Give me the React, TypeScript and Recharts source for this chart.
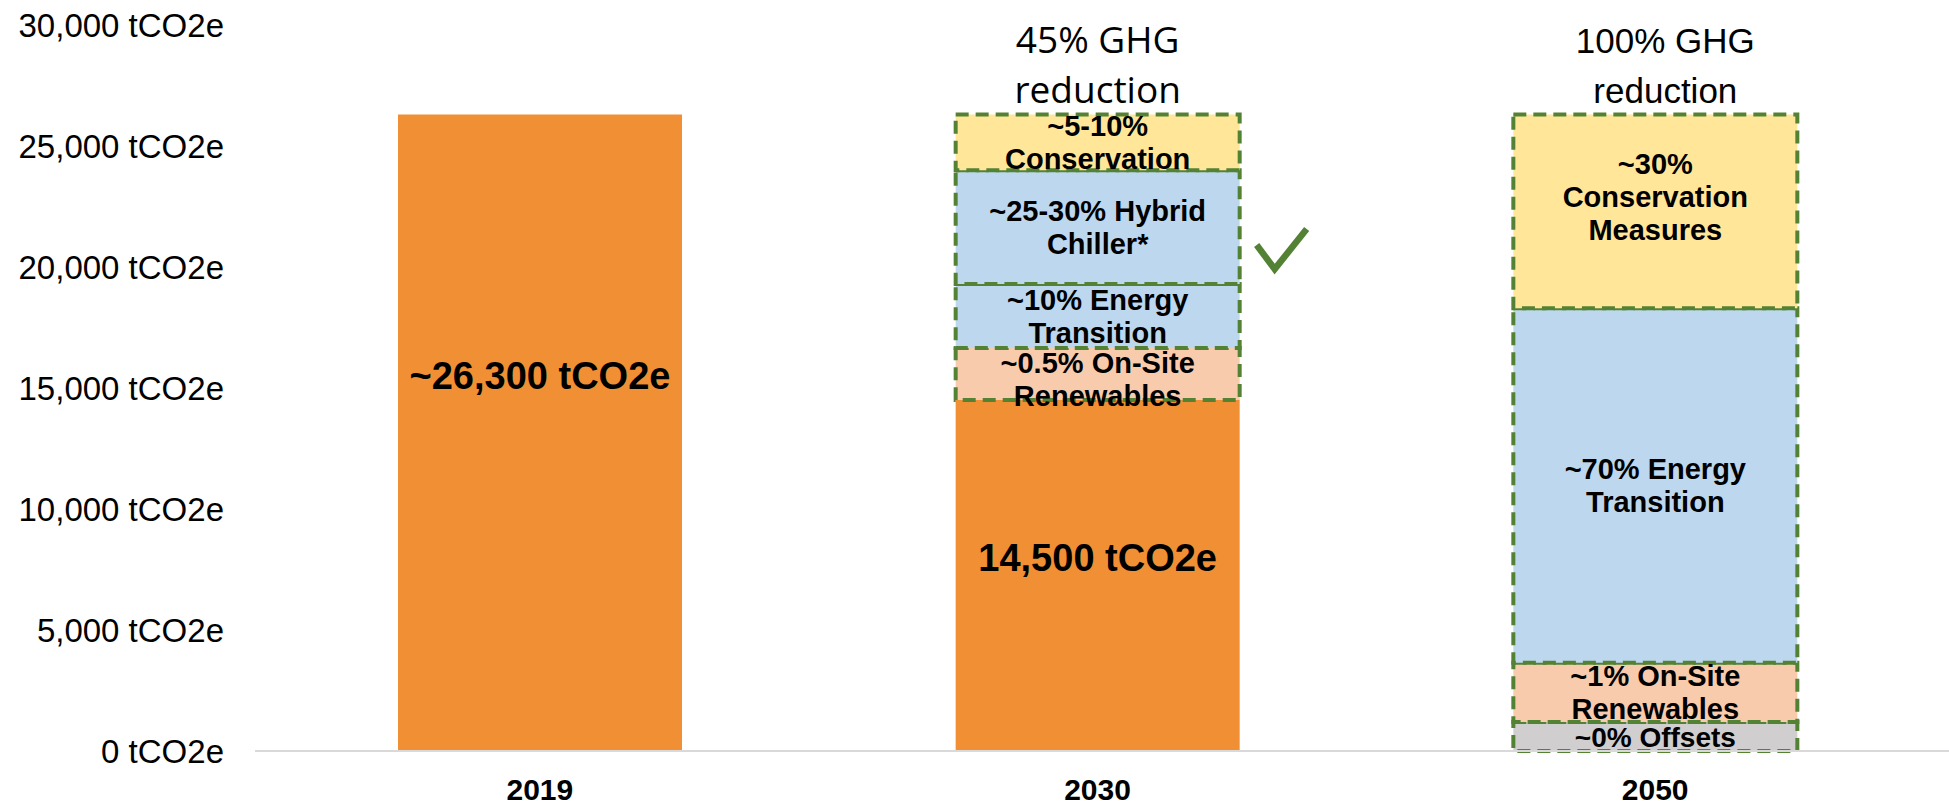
import React from 'react';
import { BarChart, Bar, XAxis, YAxis, LabelList } from 'recharts';

// --- data (tCO2e) ---
const years = ['2019', '2030', '2050'];
const baseline = [26300, 14500, 0];
const offsets = [0, 0, 1200];
const onSite = [0, 2150, 2450];
const energyTransition = [0, 2650, 14650];
const hybridChiller = [0, 4700, 0];
const conservation = [0, 2300, 8000];

const baselineLabels = ['~26,300 tCO2e', '14,500 tCO2e', ''];
const offsetsLabels = ['', '', '~0% Offsets'];
const onSiteLabels = ['', '~0.5% On-Site\nRenewables', '~1% On-Site\nRenewables'];
const energyLabels = ['', '~10% Energy\nTransition', '~70% Energy\nTransition'];
const hybridLabels = ['', '~25-30% Hybrid\nChiller*', ''];
const conservationLabels = ['', '~5-10%\nConservation', '~30%\nConservation\nMeasures'];
const reductionNotes = ['', '45% GHG\nreduction', '100% GHG\nreduction'];
const hybridChecked = [false, true, false];

const yTicks = [0, 5000, 10000, 15000, 20000, 25000, 30000];

const data = years.map((year, i) => ({
  year,
  baseline: baseline[i],
  offsets: offsets[i],
  onSite: onSite[i],
  energyTransition: energyTransition[i],
  hybridChiller: hybridChiller[i],
  conservation: conservation[i],
  baselineLabel: baselineLabels[i],
  offsetsLabel: offsetsLabels[i],
  onSiteLabel: onSiteLabels[i],
  energyLabel: energyLabels[i],
  hybridLabel: hybridLabels[i],
  conservationLabel: conservationLabels[i],
}));

// --- styles ---
const GOTHIC = '"Liberation Sans", Arial, sans-serif';
const CALIBRI = '"Open Sans", "Noto Sans", sans-serif';
const ORANGE = '#F08F34';
const YELLOW = '#FFE699';
const BLUE = '#BDD7EE';
const PEACH = '#F8CBAD';
const GREY = '#D0CECE';
const GREEN = '#548235';
const DASH = '13 7';
const DASH_W = 4;
const noteFonts = [GOTHIC, CALIBRI, GOTHIC];
const noteSizes = [35, 37, 35];
const noteShift = [0, 0, 10];
// vertical nudges for some labels (px), keyed by category index
const baseDy = [-57, -18, 0];
const consDy = [0, 0, -15];
const onSiteDy = [0, 5, 0];

const fmtTick = (v: number) => `${v.toLocaleString('en-US')} tCO2e`;

const box = (p: any) => {
  const vb = p.viewBox && p.viewBox.width !== undefined ? p.viewBox : p;
  return { x: Number(vb.x), y: Number(vb.y), width: Number(vb.width), height: Number(vb.height) };
};

const MultiLine = ({ cx, cy, text, size, lineH, family = GOTHIC, weight = 700 }: any) => {
  const lines = String(text).split('\n');
  const top = cy - ((lines.length - 1) * lineH) / 2;
  return (
    <text textAnchor="middle" fontFamily={family} fontWeight={weight} fontSize={size} fill="#000">
      {lines.map((l, i) => (
        <tspan key={i} x={cx} y={top + i * lineH} dy="0.36em">{l}</tspan>
      ))}
    </text>
  );
};

// label renderer; category index is found from the label text itself
const segLabel = (labels: string[], dyArr?: number[], size = 29) => (p: any) => {
  if (!p.value) return null;
  const idx = labels.indexOf(p.value);
  const { x, y, width, height } = box(p);
  const dy = dyArr ? dyArr[idx] || 0 : 0;
  return <MultiLine cx={x + width / 2} cy={y + height / 2 + dy} text={p.value} size={size} lineH={33} />;
};

const hybridLabel = (p: any) => {
  if (!p.value) return null;
  const idx = hybridLabels.indexOf(p.value);
  const { x, y, width, height } = box(p);
  const cy = y + height / 2;
  const r = x + width;
  return (
    <g>
      <MultiLine cx={x + width / 2} cy={cy} text={p.value} size={29} lineH={33} />
      {hybridChecked[idx] && (
        <polyline
          points={`${r + 17},${cy + 18} ${r + 35},${cy + 42} ${r + 67},${cy + 2}`}
          fill="none"
          stroke={GREEN}
          strokeWidth={6.5}
        />
      )}
    </g>
  );
};

const conservationLabel = (p: any) => {
  if (!p.value) return null;
  const idx = conservationLabels.indexOf(p.value);
  const { x, y, width, height } = box(p);
  const cx = x + width / 2;
  const note = reductionNotes[idx];
  const noteLines = note ? note.split('\n') : [];
  const nx = cx + (noteShift[idx] || 0);
  return (
    <g>
      <MultiLine cx={cx} cy={y + height / 2 + (consDy[idx] || 0)} text={p.value} size={29} lineH={33} />
      {noteLines.length > 0 && (
        <text textAnchor="middle" fontFamily={noteFonts[idx]} fontSize={noteSizes[idx]} fill="#000">
          <tspan x={nx} y={y - 62}>{noteLines[0]}</tspan>
          <tspan x={nx} y={y - 12}>{noteLines[1]}</tspan>
        </text>
      )}
    </g>
  );
};

export default function App() {
  return (
    <div style={{ position: 'absolute', left: 0, top: 0, width: 1949, height: 805, background: '#fff' }}>
      <BarChart
        width={1949}
        height={805}
        data={data}
        margin={{ top: 25, right: 0, bottom: 0, left: 0 }}
        barSize={284}
      >
        <XAxis
          dataKey="year"
          height={54}
          padding={{ left: 6, right: 15 }}
          axisLine={{ stroke: '#D9D9D9', strokeWidth: 2 }}
          tickLine={false}
          tickSize={0}
          tickMargin={28}
          tick={{ fontSize: 30, fontWeight: 700, fill: '#000', fontFamily: GOTHIC }}
        />
        <YAxis
          width={255}
          domain={[0, 30000]}
          ticks={yTicks}
          axisLine={false}
          tickLine={false}
          tickSize={0}
          tickMargin={31}
          tickFormatter={fmtTick}
          tick={{ fontSize: 33, fill: '#000', fontFamily: GOTHIC }}
          interval={0}
        />
        <Bar dataKey="baseline" stackId="a" fill={ORANGE} isAnimationActive={false}>
          <LabelList dataKey="baselineLabel" content={segLabel(baselineLabels, baseDy, 38)} />
        </Bar>
        <Bar dataKey="offsets" stackId="a" fill={GREY} stroke={GREEN} strokeWidth={DASH_W} strokeDasharray={DASH} isAnimationActive={false}>
          <LabelList dataKey="offsetsLabel" content={segLabel(offsetsLabels, undefined, 28)} />
        </Bar>
        <Bar dataKey="onSite" stackId="a" fill={PEACH} stroke={GREEN} strokeWidth={DASH_W} strokeDasharray={DASH} isAnimationActive={false}>
          <LabelList dataKey="onSiteLabel" content={segLabel(onSiteLabels, onSiteDy)} />
        </Bar>
        <Bar dataKey="energyTransition" stackId="a" fill={BLUE} stroke={GREEN} strokeWidth={DASH_W} strokeDasharray={DASH} isAnimationActive={false}>
          <LabelList dataKey="energyLabel" content={segLabel(energyLabels)} />
        </Bar>
        <Bar dataKey="hybridChiller" stackId="a" fill={BLUE} stroke={GREEN} strokeWidth={DASH_W} strokeDasharray={DASH} isAnimationActive={false}>
          <LabelList dataKey="hybridLabel" content={hybridLabel} />
        </Bar>
        <Bar dataKey="conservation" stackId="a" fill={YELLOW} stroke={GREEN} strokeWidth={DASH_W} strokeDasharray={DASH} isAnimationActive={false}>
          <LabelList dataKey="conservationLabel" content={conservationLabel} />
        </Bar>
      </BarChart>
    </div>
  );
}
